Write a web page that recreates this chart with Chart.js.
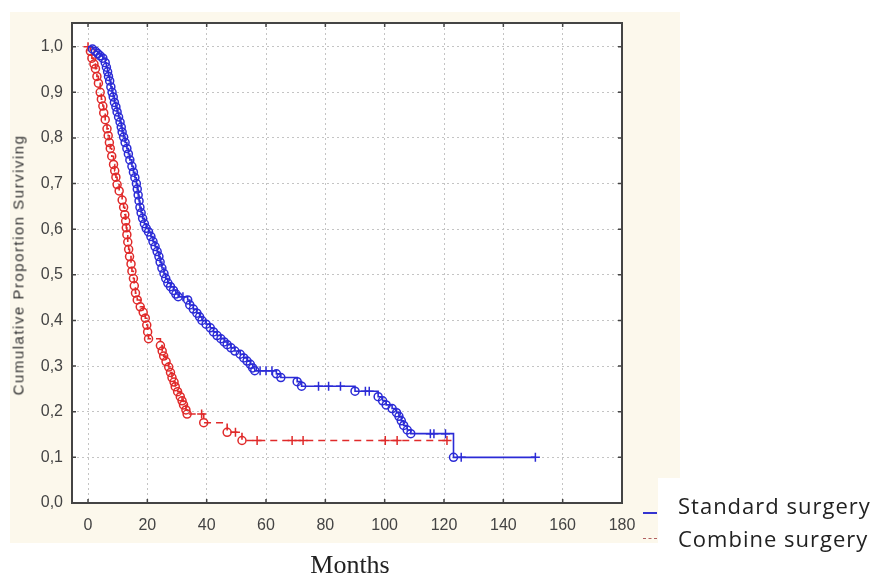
<!DOCTYPE html>
<html>
<head>
<meta charset="utf-8">
<script src="https://cdn.jsdelivr.net/npm/chart.js@4.4.1/dist/chart.umd.min.js"></script>
<style>
  html, body { margin: 0; padding: 0; background: #fff; }
  #wrap { position: relative; width: 881px; height: 577px; overflow: hidden; }
  #panel { position: absolute; left: 10px; top: 12px; width: 670px; height: 531px; background: #fcf8ec; }
  #survChart { position: absolute; left: 0; top: 0; }
  #ytitle { position: absolute; left: 18px; top: 265px; transform: translate(-50%, -50%) rotate(-90deg);
            font: 15px "Liberation Sans", Arial, sans-serif; letter-spacing: 1.5px; color: #333; white-space: nowrap; }
  #xtitle { position: absolute; left: 350px; top: 565px; transform: translate(-50%, -50%);
            font: 26px "Liberation Serif", serif; color: #222; white-space: nowrap; }
  #legend { position: absolute; left: 658px; top: 478px; width: 223px; height: 92px; background: #fff; }
  .item { position: absolute; left: 20px; font: 22px/30px "Open Sans", sans-serif; letter-spacing: 1px; color: #222; white-space: nowrap; }
  .sym { position: absolute; left: 643px; width: 14px; }
</style>
</head>
<body>
<div id="wrap">
  <div id="panel"></div>
  <canvas id="survChart" width="881" height="577"></canvas>
  <div id="ytitle">Cumulative Proportion Surviving</div>
  <div id="xtitle">Months</div>
  <div id="legend">
    <div class="item" style="top:12px">Standard surgery</div>
    <div class="item" style="top:45px">Combine surgery</div>
  </div>
  <div class="sym" style="top:512px;height:2px;background:#3434d0"></div>
  <div class="sym" style="top:538px;height:0;border-top:1.5px dashed #b06060"></div>
</div>
<script>
// x and y tick labels
const xTicks = [0, 20, 40, 60, 80, 100, 120, 140, 160, 180];
const yTicks = [0, 0.1, 0.2, 0.3, 0.4, 0.5, 0.6, 0.7, 0.8, 0.9, 1.0];

// Standard surgery: month, cumulative proportion surviving, mark ('o' event, '+' censored)
const stdMonths = [
  0, 1.5, 2.5, 3.3, 4.1, 5.0, 5.8, 6.2, 6.6, 6.9,
  7.3, 7.7, 8.1, 8.5, 8.9, 9.4, 9.8, 10.3, 10.8, 11.2,
  11.5, 12.0, 12.5, 13.1, 13.6, 14.1, 14.8, 15.3, 15.8, 16.3,
  16.6, 16.9, 17.2, 17.5, 17.9, 18.4, 19.0, 19.6, 20.4, 21.2,
  21.9, 22.6, 23.3, 23.9, 24.3, 24.9, 25.6, 26.2, 26.9, 27.8,
  28.8, 29.6, 30.4, 32.0, 33.6, 34.3, 35.5, 36.7, 37.6, 38.4,
  39.8, 41.2, 42.3, 43.5, 44.8, 45.9, 46.9, 48.2, 49.5, 51.3,
  52.5, 53.6, 54.7, 55.5, 56.2, 58.0, 60.0, 62.0, 63.5, 65.0,
  70.5, 72.0, 77.7, 81.1, 85.1, 90.0, 93.5, 94.8, 97.8, 99.3,
  100.5, 102.5, 104.0, 104.8, 105.6, 106.4, 107.6, 108.8, 115.4, 116.6,
  120.5, 123.2, 125.8, 150.8
];
const stdSurv = [
  1.000, 0.995, 0.990, 0.985, 0.980, 0.975, 0.965, 0.955, 0.945, 0.935,
  0.925, 0.912, 0.900, 0.890, 0.878, 0.868, 0.857, 0.846, 0.835, 0.824,
  0.813, 0.802, 0.790, 0.777, 0.765, 0.752, 0.738, 0.725, 0.713, 0.700,
  0.688, 0.675, 0.662, 0.648, 0.636, 0.624, 0.612, 0.602, 0.594, 0.584,
  0.573, 0.562, 0.551, 0.540, 0.528, 0.515, 0.503, 0.492, 0.482, 0.474,
  0.466, 0.458, 0.452, 0.452, 0.445, 0.434, 0.425, 0.416, 0.408, 0.400,
  0.392, 0.384, 0.375, 0.367, 0.360, 0.353, 0.347, 0.340, 0.333, 0.326,
  0.318, 0.311, 0.304, 0.296, 0.290, 0.290, 0.290, 0.290, 0.283, 0.275,
  0.266, 0.256, 0.256, 0.256, 0.256, 0.245, 0.245, 0.245, 0.233, 0.224,
  0.215, 0.207, 0.198, 0.190, 0.180, 0.170, 0.160, 0.152, 0.152, 0.152,
  0.152, 0.100, 0.100, 0.100
];
const stdMarks = [
  '', 'o', 'o', 'o', 'o', 'o', 'o', 'o', 'o', 'o',
  'o', 'o', 'o', 'o', 'o', 'o', 'o', 'o', 'o', 'o',
  'o', 'o', 'o', 'o', 'o', 'o', 'o', 'o', 'o', 'o',
  'o', 'o', 'o', 'o', 'o', 'o', 'o', 'o', 'o', 'o',
  'o', 'o', 'o', 'o', 'o', 'o', 'o', 'o', 'o', 'o',
  'o', 'o', 'o', '+', 'o', 'o', 'o', 'o', 'o', 'o',
  'o', 'o', 'o', 'o', 'o', 'o', 'o', 'o', 'o', 'o',
  'o', 'o', 'o', 'o', 'o', '+', '+', '+', 'o', 'o',
  'o', 'o', '+', '+', '+', 'o', '+', '+', 'o', 'o',
  'o', 'o', 'o', 'o', 'o', 'o', 'o', 'o', '+', '+',
  '+', 'o', '+', '+'
];

// Combine surgery
const cmbMonths = [
  0, 0.8, 1.3, 2.0, 2.5, 3.0, 3.5, 4.1, 4.5, 5.0,
  5.3, 5.8, 6.4, 6.8, 7.2, 7.5, 8.0, 8.6, 9.0, 9.4,
  9.8, 10.5, 11.5, 12.0, 12.4, 12.7, 12.9, 13.1, 13.4, 13.7,
  14.0, 14.5, 14.8, 15.3, 15.6, 16.0, 16.6, 17.6, 18.6, 19.3,
  19.8, 20.1, 20.4, 24.4, 25.0, 25.5, 26.3, 27.2, 27.8, 28.3,
  29.0, 29.4, 30.2, 31.1, 31.7, 32.2, 33.0, 33.4, 38.3, 39.0,
  46.9, 49.7, 51.9, 57.0, 68.8, 72.5, 100.2, 104.2, 121.0
];
const cmbSurv = [
  1.000, 0.990, 0.975, 0.962, 0.952, 0.935, 0.920, 0.900, 0.885, 0.870,
  0.855, 0.840, 0.820, 0.805, 0.790, 0.777, 0.760, 0.742, 0.728, 0.714,
  0.698, 0.684, 0.664, 0.648, 0.632, 0.618, 0.603, 0.588, 0.572, 0.556,
  0.540, 0.524, 0.508, 0.492, 0.476, 0.460, 0.445, 0.430, 0.418, 0.405,
  0.390, 0.375, 0.360, 0.345, 0.333, 0.322, 0.310, 0.298, 0.286, 0.275,
  0.265, 0.255, 0.244, 0.233, 0.224, 0.215, 0.204, 0.195, 0.195, 0.176,
  0.155, 0.155, 0.137, 0.137, 0.137, 0.137, 0.137, 0.137, 0.137
];
const cmbMarks = [
  '+', 'o', 'o', 'o', 'o', 'o', 'o', 'o', 'o', 'o',
  'o', 'o', 'o', 'o', 'o', 'o', 'o', 'o', 'o', 'o',
  'o', 'o', 'o', 'o', 'o', 'o', 'o', 'o', 'o', 'o',
  'o', 'o', 'o', 'o', 'o', 'o', 'o', 'o', 'o', 'o',
  'o', 'o', 'o', 'o', 'o', 'o', 'o', 'o', 'o', 'o',
  'o', 'o', 'o', 'o', 'o', 'o', 'o', 'o', '+', 'o',
  'o', '+', 'o', '+', '+', '+', '+', '+', '+'
];

const toPoints = (xs, ys) => xs.map((m, i) => ({ x: m, y: ys[i] }));

function kmDataset(label, xs, ys, marks, color, dash) {
  return {
    label: label,
    data: toPoints(xs, ys),
    borderColor: color,
    borderWidth: 1.6,
    borderDash: dash,
    stepped: 'before',
    tension: 0,
    fill: false,
    pointStyle: c => marks[c.dataIndex] === '+' ? 'cross' : 'circle',
    pointRadius: c => marks[c.dataIndex] === '' ? 0 : (marks[c.dataIndex] === '+' ? 4.5 : 4),
    pointBorderWidth: 1.5,
    pointBorderColor: color,
    pointBackgroundColor: 'rgba(255,255,255,0)'
  };
}

// white plot area, dark frame and small inner tick marks
const framePlugin = {
  id: 'frame',
  beforeDraw(chart) {
    const { ctx, chartArea: a } = chart;
    ctx.save();
    ctx.fillStyle = '#fff';
    ctx.fillRect(a.left, a.top, a.right - a.left, a.bottom - a.top);
    ctx.restore();
  },
  afterDraw(chart) {
    const { ctx, chartArea: a, scales } = chart;
    ctx.save();
    ctx.strokeStyle = '#444';
    ctx.lineWidth = 2;
    ctx.strokeRect(a.left, a.top, a.right - a.left, a.bottom - a.top);
    ctx.lineWidth = 1.5;
    ctx.beginPath();
    scales.x.ticks.forEach(t => {
      const px = scales.x.getPixelForValue(t.value);
      ctx.moveTo(px, a.bottom); ctx.lineTo(px, a.bottom - 4);
      ctx.moveTo(px, a.top); ctx.lineTo(px, a.top + 4);
    });
    scales.y.ticks.forEach(t => {
      const py = scales.y.getPixelForValue(t.value);
      ctx.moveTo(a.left, py); ctx.lineTo(a.left + 4, py);
      ctx.moveTo(a.right, py); ctx.lineTo(a.right - 4, py);
    });
    ctx.stroke();
    ctx.restore();
  }
};

const tickFont = { family: '"Liberation Sans", Arial, sans-serif', size: 16 };

const config = {
  type: 'line',
  data: {
    datasets: [
      kmDataset('Standard surgery', stdMonths, stdSurv, stdMarks, '#2b2bd6', []),
      kmDataset('Combine surgery', cmbMonths, cmbSurv, cmbMarks, '#e02a2a', [7, 5])
    ]
  },
  options: {
    responsive: false,
    animation: false,
    layout: { padding: { top: 23, right: 259, bottom: 34, left: 0 } },
    plugins: {
      legend: { display: false },
      tooltip: { enabled: false }
    },
    scales: {
      x: {
        type: 'linear',
        min: -5.4,
        max: 180,
        afterBuildTicks: s => { s.ticks = xTicks.map(v => ({ value: v })); },
        afterFit: s => { s.height = 40; },
        ticks: { font: tickFont, color: '#444', padding: 13, maxRotation: 0 },
        grid: { color: '#c4c4c4', lineWidth: 1, drawTicks: false },
        border: { display: false, dash: [2, 3] }
      },
      y: {
        min: 0,
        max: 1.052,
        afterBuildTicks: s => { s.ticks = yTicks.map(v => ({ value: v })); },
        afterFit: s => { s.width = 72; },
        ticks: {
          font: tickFont, color: '#444', padding: 9,
          callback: v => v.toFixed(1).replace('.', ',')
        },
        grid: { color: '#c4c4c4', lineWidth: 1, drawTicks: false },
        border: { display: false, dash: [2, 3] }
      }
    }
  },
  plugins: [framePlugin]
};

new Chart(document.getElementById('survChart').getContext('2d'), config);
</script>
</body>
</html>
